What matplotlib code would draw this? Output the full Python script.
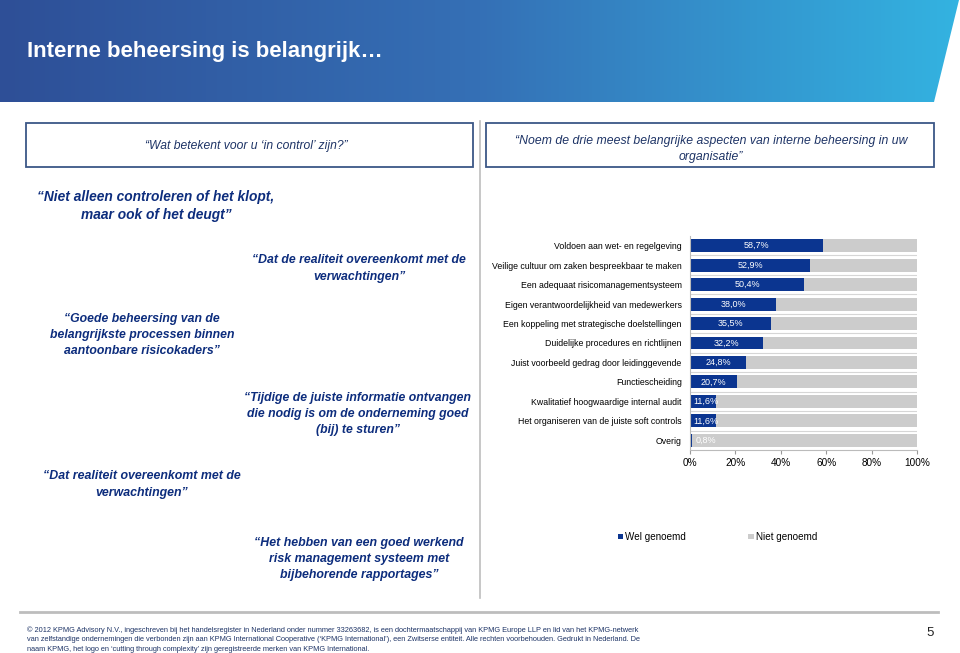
import numpy as np
import matplotlib
matplotlib.use("Agg")
from matplotlib import pyplot as plt
from matplotlib.patches import Polygon, Rectangle
from matplotlib.colors import LinearSegmentedColormap

# chart data
categories = [
    "Voldoen aan wet- en regelgeving",
    "Veilige cultuur om zaken bespreekbaar te maken",
    "Een adequaat risicomanagementsysteem",
    "Eigen verantwoordelijkheid van medewerkers",
    "Een koppeling met strategische doelstellingen",
    "Duidelijke procedures en richtlijnen",
    "Juist voorbeeld gedrag door leidinggevende",
    "Functiescheiding",
    "Kwalitatief hoogwaardige internal audit",
    "Het organiseren van de juiste soft controls",
    "Overig",
]
wel_genoemd = [58.7, 52.9, 50.4, 38.0, 35.5, 32.2, 24.8, 20.7, 11.6, 11.6, 0.8]
niet_genoemd = [100 - v for v in wel_genoemd]
value_labels = ["58,7%", "52,9%", "50,4%", "38,0%", "35,5%", "32,2%",
                "24,8%", "20,7%", "11,6%", "11,6%", "0,8%"]
x_ticks = [0, 20, 40, 60, 80, 100]
x_tick_labels = ["0%", "20%", "40%", "60%", "80%", "100%"]
legend_labels = ["Wel genoemd", "Niet genoemd"]

title = "Interne beheersing is belangrijk…"
question_left = "“Wat betekent voor u ‘in control’ zijn?”"
question_right = "“Noem de drie meest belangrijke aspecten van interne beheersing in uw\norganisatie”"
quotes = [
    # (text, x, y, narrow, size)
    ("“Niet alleen controleren of het klopt,\nmaar ook of het deugt”", 156, 206, True, 9.9),
    ("“Dat de realiteit overeenkomt met de\nverwachtingen”", 359, 268.5, False, 8.8),
    ("“Goede beheersing van de\nbelangrijkste processen binnen\naantoonbare risicokaders”", 142, 335, False, 8.8),
    ("“Tijdige de juiste informatie ontvangen\ndie nodig is om de onderneming goed\n(bij) te sturen”", 358, 414, False, 8.8),
    ("“Dat realiteit overeenkomt met de\nverwachtingen”", 142, 484.5, True, 8.9),
    ("“Het hebben van een goed werkend\nrisk management systeem met\nbijbehorende rapportages”", 359, 559, True, 8.9),
]
footer = ("© 2012 KPMG Advisory N.V., ingeschreven bij het handelsregister in Nederland onder nummer 33263682, "
          "is een dochtermaatschappij van KPMG Europe LLP en lid van het KPMG-netwerk\n"
          "van zelfstandige ondernemingen die verbonden zijn aan KPMG International Cooperative "
          "(‘KPMG International’), een Zwitserse entiteit. Alle rechten voorbehouden. Gedrukt in Nederland. De\n"
          "naam KPMG, het logo en ‘cutting through complexity’ zijn geregistreerde merken van KPMG International.")

BLUE = "#0b3590"
GREY = "#cccccc"
QUOTE = "#0d2d7d"
NARROW = ["Liberation Sans Narrow", "Liberation Sans", "DejaVu Sans"]
plt.rcParams["font.family"] = ["Liberation Sans", "DejaVu Sans"]

W, H = 960, 653
fig = plt.figure(figsize=(W / 100, H / 100), dpi=100)

# overlay in pixel coordinates
bg = fig.add_axes([0, 0, 1, 1])
bg.set_xlim(0, W)
bg.set_ylim(H, 0)
bg.axis("off")

# header band with gradient and slanted right edge
grad = LinearSegmentedColormap.from_list("hdr", ["#2e4f97", "#3570b6", "#33b3e1"])
img = bg.imshow(np.linspace(0, 1, 256)[None, :], cmap=grad, aspect="auto",
                extent=(0, W, 102, 0), zorder=0)
band = Polygon([(0, 0), (959, 0), (934, 102), (0, 102)], closed=True,
               facecolor="none", edgecolor="none")
bg.add_patch(band)
img.set_clip_path(band)
bg.text(27, 51, title, color="white", fontsize=16, fontweight="bold",
        va="center", ha="left")

# question boxes
for x0, x1 in [(26, 473), (486, 934)]:
    bg.add_patch(Rectangle((x0, 123), x1 - x0, 44, facecolor="white",
                           edgecolor="#3b5787", lw=1.3))
bg.text(246, 146, question_left, color="#1e3466", fontsize=8.7, style="italic",
        ha="center", va="center", family=NARROW)
bg.text(711, 149, question_right, color="#1e3466", fontsize=8.8, style="italic",
        ha="center", va="center", family=NARROW, linespacing=1.5)

# divider lines
bg.plot([480, 480], [121, 598], color="#bdbdbd", lw=1.2)
bg.plot([20, 938], [612, 612], color="#bdbdbd", lw=2)

# quotes
for text, x, y, narrow, size in quotes:
    bg.text(x, y, text, color=QUOTE, fontsize=size, fontweight="bold", style="italic",
            ha="center", va="center", linespacing=1.45,
            family=NARROW if narrow else ["Liberation Sans", "DejaVu Sans"])

# footer
bg.text(27, 639.5, footer, color="#1e3466", fontsize=5.35, ha="left", va="center",
        linespacing=1.45, family=NARROW)
bg.text(930, 633, "5", color="#222222", fontsize=9.5, ha="center", va="center")

# stacked bar chart
ax = fig.add_axes([690 / W, 1 - 450 / H, 227 / W, 214 / H])
y = np.arange(len(categories))
b1 = ax.barh(y, wel_genoemd, height=0.66, color=BLUE, zorder=2)
b2 = ax.barh(y, niet_genoemd, left=wel_genoemd, height=0.66, color=GREY, zorder=2)
for i, (v, lab) in enumerate(zip(wel_genoemd, value_labels)):
    ax.text(max(v / 2, 7), i, lab, color="white", fontsize=6.5, ha="center",
            va="center", zorder=3)
for k in range(1, len(categories)):
    ax.axhline(k - 0.5, color="#d6d6d6", lw=0.8, zorder=1)
ax.set_ylim(len(categories) - 0.5, -0.5)
ax.set_xlim(0, 100)
ax.set_yticks(y)
ax.set_yticklabels(categories, fontsize=6.3)
ax.set_xticks(x_ticks)
ax.set_xticklabels(x_tick_labels, fontsize=7.2)
ax.tick_params(axis="y", length=0, pad=6)
ax.tick_params(axis="x", length=3, color="#999999", pad=3)
for s in ["top", "right"]:
    ax.spines[s].set_visible(False)
ax.spines["left"].set_color("#bbbbbb")
ax.spines["bottom"].set_color("#bbbbbb")

fig.legend([b1, b2], legend_labels, loc="center left", bbox_to_anchor=(609 / W, 1 - 537 / H),
           ncol=2, frameon=False, fontsize=7.1, handlelength=0.55, handleheight=0.55,
           handletextpad=0.2, columnspacing=6.3)

fig.savefig("out.png", dpi=100)
